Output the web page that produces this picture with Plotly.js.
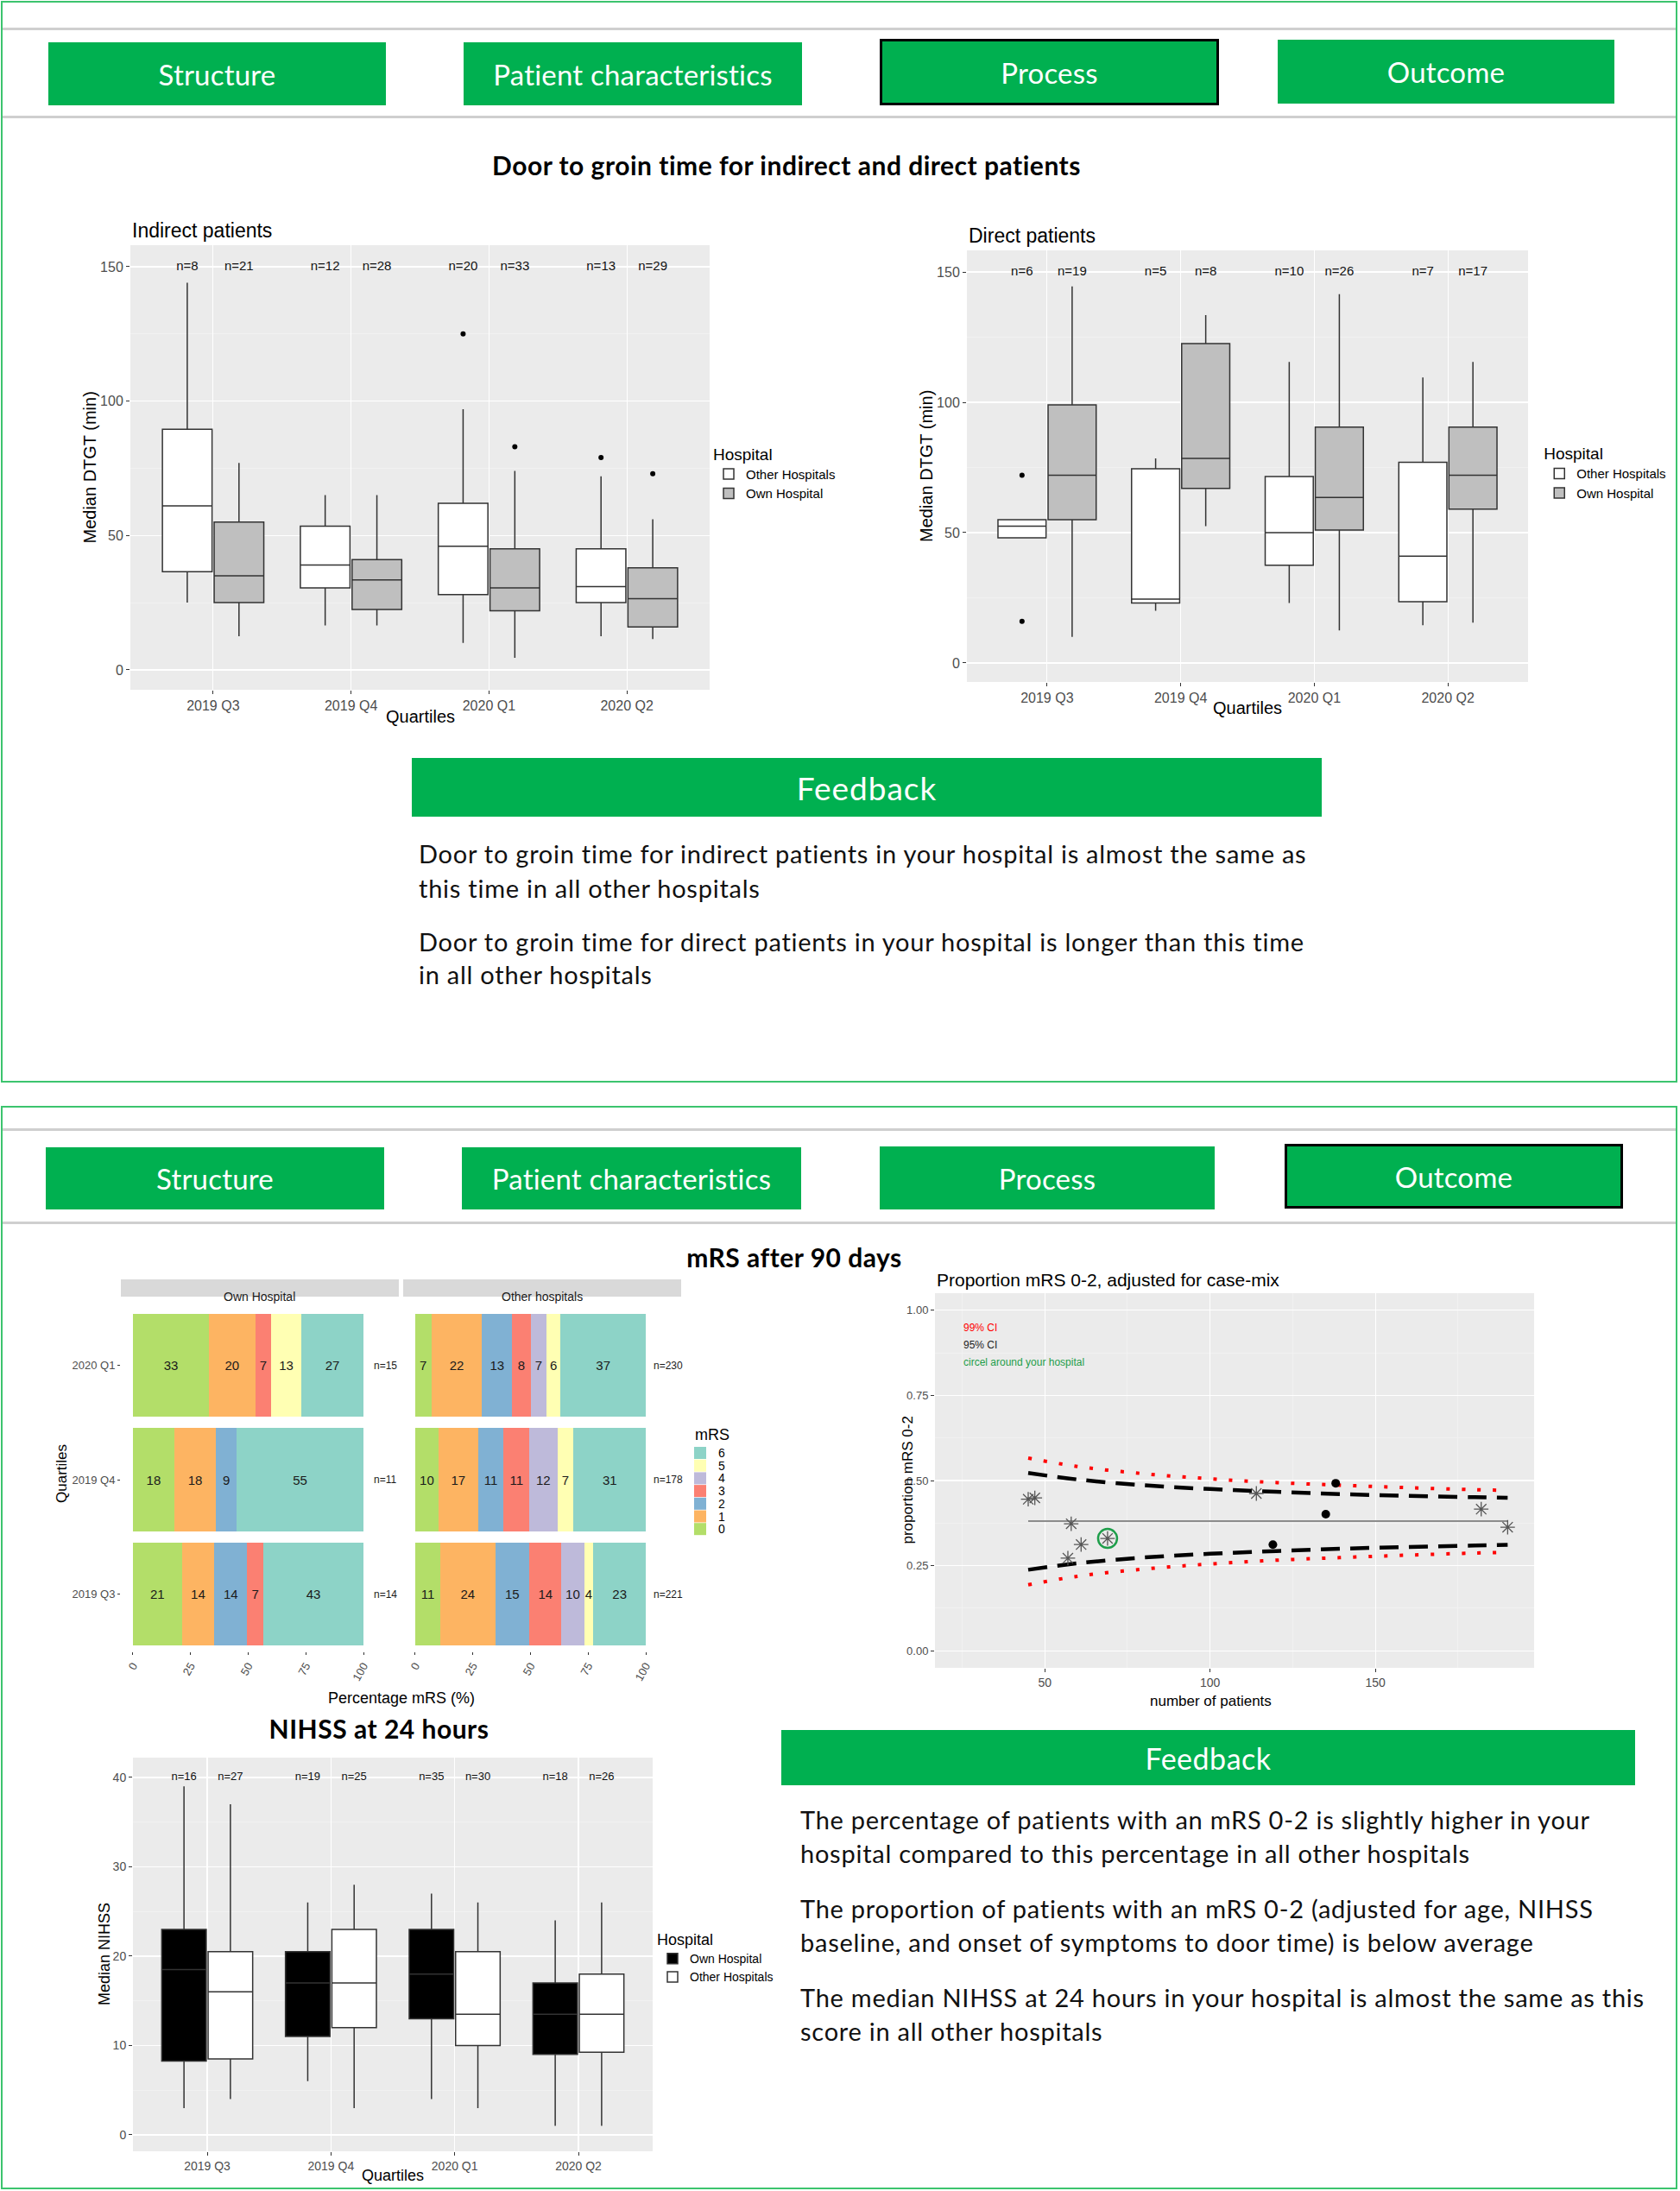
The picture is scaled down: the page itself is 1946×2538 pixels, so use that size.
<!DOCTYPE html>
<html><head><meta charset="utf-8">
<script src="https://cdn.plot.ly/plotly-3.0.1.min.js"></script>
<style>
body{margin:0;background:#fff;width:1946px;height:2538px;position:relative;overflow:hidden;font-family:Lato,'Liberation Sans',sans-serif;}
.panel{position:absolute;border:2px solid #3cc46e;box-sizing:border-box;}
.hline{position:absolute;height:3px;background:#cfcfcf;}
.btn{position:absolute;background:#00b050;color:#fff;display:flex;align-items:center;justify-content:center;font-size:33px;letter-spacing:0.2px;box-sizing:border-box;white-space:nowrap;}
.sel{border:3px solid #000;}
.ttl{position:absolute;font-weight:bold;font-size:30px;letter-spacing:0.5px;color:#000;white-space:nowrap;transform:translate(-50%,-50%);}
.fb{position:absolute;font-size:29px;letter-spacing:0.75px;color:#111;white-space:nowrap;transform:translateY(-50%);}
.chart{position:absolute;}
</style></head><body>

<div class="panel" style="left:1px;top:1px;width:1942px;height:1253px;"></div>
<div class="hline" style="left:3px;top:32px;width:1938px;"></div>
<div class="hline" style="left:3px;top:134px;width:1938px;"></div>
<div class="btn" style="left:56px;top:49px;width:391px;height:73px;">Structure</div>
<div class="btn" style="left:537px;top:49px;width:392px;height:73px;">Patient characteristics</div>
<div class="btn sel" style="left:1019px;top:45px;width:393px;height:77px;">Process</div>
<div class="btn" style="left:1480px;top:46px;width:390px;height:74px;">Outcome</div>
<div class="ttl" style="left:911px;top:191px;">Door to groin time for indirect and direct patients</div>

<div class="btn" style="left:477px;top:878px;width:1054px;height:68px;font-size:37px;letter-spacing:1px;">Feedback</div>
<div class="fb" style="left:485px;top:988px;">Door to groin time for indirect patients in your hospital is almost the same as</div>
<div class="fb" style="left:485px;top:1028px;">this time in all other hospitals</div>
<div class="fb" style="left:485px;top:1090px;">Door to groin time for direct patients in your hospital is longer than this time</div>
<div class="fb" style="left:485px;top:1128px;">in all other hospitals</div>

<div class="panel" style="left:1px;top:1281px;width:1942px;height:1255px;"></div>
<div class="hline" style="left:3px;top:1307px;width:1938px;"></div>
<div class="hline" style="left:3px;top:1415px;width:1938px;"></div>
<div class="btn" style="left:53px;top:1329px;width:392px;height:72px;">Structure</div>
<div class="btn" style="left:535px;top:1329px;width:393px;height:72px;">Patient characteristics</div>
<div class="btn" style="left:1019px;top:1328px;width:388px;height:73px;">Process</div>
<div class="btn sel" style="left:1488px;top:1325px;width:392px;height:75px;">Outcome</div>
<div class="ttl" style="left:920px;top:1456px;">mRS after 90 days</div>
<div class="ttl" style="left:439px;top:2002px;">NIHSS at 24 hours</div>

<div class="btn" style="left:905px;top:2004px;width:989px;height:64px;font-size:34px;letter-spacing:0.5px;">Feedback</div>
<div class="fb" style="left:927px;top:2107px;">The percentage of patients with an mRS 0-2 is slightly higher in your</div>
<div class="fb" style="left:927px;top:2146px;">hospital compared to this percentage in all other hospitals</div>
<div class="fb" style="left:927px;top:2210px;">The proportion of patients with an mRS 0-2 (adjusted for age, NIHSS</div>
<div class="fb" style="left:927px;top:2249px;">baseline, and onset of symptoms to door time) is below average</div>
<div class="fb" style="left:927px;top:2313px;">The median NIHSS at 24 hours in your hospital is almost the same as this</div>
<div class="fb" style="left:927px;top:2352px;">score in all other hospitals</div>

<div id="indirect" class="chart" style="left:40px;top:230px;width:1000px;height:620px;"></div>
<div id="direct" class="chart" style="left:1000px;top:230px;width:941px;height:620px;"></div>
<div id="mrs" class="chart" style="left:40px;top:1440px;width:920px;height:540px;"></div>
<div id="funnel" class="chart" style="left:980px;top:1440px;width:900px;height:560px;"></div>
<div id="nihss" class="chart" style="left:40px;top:2010px;width:900px;height:528px;"></div>

<script>
// ---------- data ----------
const quarters = ['2019 Q3', '2019 Q4', '2020 Q1', '2020 Q2'];

// Indirect patients, door to groin time (min)
const indOtherLow  = [25, 16.5, 10, 12.5];
const indOtherQ1   = [36.5, 30.5, 28, 25];
const indOtherMed  = [61, 39, 46, 31];
const indOtherQ3   = [89.5, 53.5, 62, 45];
const indOtherHigh = [144, 65, 97, 72];
const indOtherOut  = [[], [], [125], [79]];
const indOtherN    = [8, 12, 20, 13];
const indOwnLow    = [12.5, 16.5, 4.5, 11.5];
const indOwnQ1     = [25, 22.5, 22, 16];
const indOwnMed    = [35, 33.5, 30.5, 26.5];
const indOwnQ3     = [55, 41, 45, 38];
const indOwnHigh   = [77, 65, 74, 56];
const indOwnOut    = [[], [], [83], [73]];
const indOwnN      = [21, 28, 33, 29];

// Direct patients, door to groin time (min)
const dirOtherLow  = [48, 20, 23, 14.5];
const dirOtherQ1   = [48, 23, 37.5, 23.5];
const dirOtherMed  = [52.5, 24.5, 50, 41];
const dirOtherQ3   = [55, 74.5, 71.5, 77];
const dirOtherHigh = [55, 78.5, 115.5, 109.5];
const dirOtherOut  = [[72, 16], [], [], []];
const dirOtherN    = [6, 5, 10, 7];
const dirOwnLow    = [10, 52.5, 12.5, 15.5];
const dirOwnQ1     = [55, 67, 51, 59];
const dirOwnMed    = [72, 78.5, 63.5, 72];
const dirOwnQ3     = [99, 122.5, 90.5, 90.5];
const dirOwnHigh   = [144.5, 133.5, 141.5, 115.5];
const dirOwnOut    = [[], [], [], []];
const dirOwnN      = [19, 8, 26, 17];

// NIHSS at 24 hours
const nihOwnLow    = [3, 6, 4, 1];
const nihOwnQ1     = [8.25, 11, 13, 9];
const nihOwnMed    = [18.5, 17, 18, 13.5];
const nihOwnQ3     = [23, 20.5, 23, 17];
const nihOwnHigh   = [39, 26, 27, 24];
const nihOwnN      = [16, 19, 35, 18];
const nihOtherLow  = [4, 3, 3, 1];
const nihOtherQ1   = [8.5, 12, 10, 9.25];
const nihOtherMed  = [16, 17, 13.5, 13.5];
const nihOtherQ3   = [20.5, 23, 20.5, 18];
const nihOtherHigh = [37, 28, 26, 26];
const nihOtherN    = [27, 25, 30, 26];

// mRS after 90 days (%), levels 0..6
const mrsQuarters = ['2019 Q3', '2019 Q4', '2020 Q1'];
const mrsLevels = ['0', '1', '2', '3', '4', '5', '6'];
const mrsColors = ['#b3de69', '#fdb462', '#80b1d3', '#fb8072', '#bebada', '#ffffb3', '#8dd3c7'];
const mrsOwn2019Q3   = [21, 14, 14, 7, 0, 0, 43];
const mrsOwn2019Q4   = [18, 18, 9, 0, 0, 0, 55];
const mrsOwn2020Q1   = [33, 20, 0, 7, 0, 13, 27];
const mrsOther2019Q3 = [11, 24, 15, 14, 10, 4, 23];
const mrsOther2019Q4 = [10, 17, 11, 11, 12, 7, 31];
const mrsOther2020Q1 = [7, 22, 13, 8, 7, 6, 37];
const mrsOwnN   = [14, 11, 15];
const mrsOtherN = [221, 178, 230];

// Funnel plot: proportion mRS 0-2 adjusted for case-mix
const funnelN  = [45, 60, 80, 100, 120, 140, 160, 180, 190];
const upper99  = [0.566, 0.541, 0.520, 0.505, 0.494, 0.486, 0.479, 0.473, 0.471];
const upper95  = [0.522, 0.503, 0.486, 0.475, 0.467, 0.460, 0.455, 0.451, 0.449];
const lower95  = [0.238, 0.257, 0.274, 0.285, 0.293, 0.300, 0.305, 0.309, 0.311];
const lower99  = [0.194, 0.219, 0.240, 0.255, 0.266, 0.274, 0.281, 0.287, 0.289];
const meanN    = [45, 190];
const meanP    = [0.381, 0.381];
const starN    = [45, 47, 57, 58, 61, 69, 114, 182, 190];
const starP    = [0.445, 0.449, 0.272, 0.373, 0.312, 0.330, 0.462, 0.416, 0.363];
const dotN     = [119, 135, 138];
const dotP     = [0.312, 0.401, 0.492];
const yourN    = [69];
const yourP    = [0.330];

// ---------- helpers ----------
const F = 'Liberation Sans, Arial, sans-serif';
const dodge = 0.1875, boxW = 0.36;
const cfg = {staticPlot: true, displayModeBar: false};
const pos = off => quarters.map((q, i) => i + 1 + off);

function boxTrace(name, off, lo, q1, med, q3, hi, fill) {
  return {type: 'box', name: name, x: pos(off), lowerfence: lo, q1: q1, median: med, q3: q3, upperfence: hi,
    width: boxW, fillcolor: fill, line: {color: '#333333', width: 1.5}, whiskerwidth: 0,
    boxpoints: false, hoverinfo: 'skip', showlegend: true};
}
function outTrace(off, outs) {
  const x = [], y = [];
  outs.forEach((arr, i) => arr.forEach(v => { x.push(i + 1 + off); y.push(v); }));
  return {type: 'scatter', mode: 'markers', x: x, y: y, marker: {color: '#000', size: 6}, showlegend: false, hoverinfo: 'skip'};
}
function nTrace(off, ns, yv, fs) {
  return {type: 'scatter', mode: 'text', x: pos(off), y: ns.map(() => yv), text: ns.map(n => 'n=' + n),
    textfont: {family: F, size: fs, color: '#111'}, showlegend: false, hoverinfo: 'skip'};
}
function boxLayout(o) {
  return {
    width: o.w, height: o.h, margin: {l: o.l, r: o.r, t: o.t, b: o.b, autoexpand: false},
    paper_bgcolor: 'rgba(0,0,0,0)', plot_bgcolor: '#ebebeb', boxmode: 'overlay', showlegend: true,
    font: {family: F},
    xaxis: {range: [0.4, 4.6], tickvals: [1, 2, 3, 4], ticktext: quarters, showgrid: true, gridcolor: '#ffffff', gridwidth: 1.2,
      zeroline: false, showline: false, ticks: 'outside', ticklen: 4, tickcolor: '#333', tickfont: {family: F, size: o.tf, color: '#4d4d4d'}},
    yaxis: {range: o.yr, dtick: o.dt, tick0: 0, showgrid: true, gridcolor: '#ffffff', gridwidth: 1.2,
      minor: {dtick: o.dt / 2, tick0: 0, showgrid: true, gridcolor: '#f5f5f5', gridwidth: 0.6},
      zeroline: false, showline: false, ticks: 'outside', ticklen: 4, tickcolor: '#333', tickfont: {family: F, size: o.tf, color: '#4d4d4d'}},
    legend: {x: o.lx, y: o.ly, xanchor: 'left', yanchor: 'top', bgcolor: 'rgba(0,0,0,0)',
      title: {text: 'Hospital', font: {family: F, size: o.lt, color: '#000'}}, font: {family: F, size: o.li, color: '#000'}},
    annotations: [
      o.title ? {text: o.title, xref: 'paper', yref: 'paper', x: 0, y: 1, xanchor: 'left', yanchor: 'bottom', yshift: 2, showarrow: false, font: {family: F, size: 23, color: '#000'}} : null,
      {text: 'Quartiles', xref: 'paper', yref: 'paper', x: 0.5, y: 0, yanchor: 'middle', yshift: -o.xts, showarrow: false, font: {family: F, size: o.af, color: '#000'}},
      {text: o.ytitle, xref: 'paper', yref: 'paper', x: 0, y: 0.5, xanchor: 'center', xshift: -o.yts, textangle: -90, showarrow: false, font: {family: F, size: o.af, color: '#000'}}
    ].filter(Boolean)
  };
}

// ---------- indirect ----------
Plotly.newPlot('indirect', [
  boxTrace('Other Hospitals', -dodge, indOtherLow, indOtherQ1, indOtherMed, indOtherQ3, indOtherHigh, '#ffffff'),
  boxTrace('Own Hospital', dodge, indOwnLow, indOwnQ1, indOwnMed, indOwnQ3, indOwnHigh, '#bfbfbf'),
  outTrace(-dodge, indOtherOut), outTrace(dodge, indOwnOut),
  nTrace(-dodge, indOtherN, 150, 15), nTrace(dodge, indOwnN, 150, 15)
], boxLayout({w: 1000, h: 620, l: 111, r: 218, t: 54, b: 51, yr: [-7.4, 158], dt: 50, lx: 1.003, ly: 0.565,
  title: 'Indirect patients', ytitle: 'Median DTGT (min)', xts: 31, yts: 48, tf: 16, af: 20, lt: 19, li: 15}), cfg);

// ---------- direct ----------
Plotly.newPlot('direct', [
  boxTrace('Other Hospitals', -dodge, dirOtherLow, dirOtherQ1, dirOtherMed, dirOtherQ3, dirOtherHigh, '#ffffff'),
  boxTrace('Own Hospital', dodge, dirOwnLow, dirOwnQ1, dirOwnMed, dirOwnQ3, dirOwnHigh, '#bfbfbf'),
  outTrace(-dodge, dirOtherOut), outTrace(dodge, dirOwnOut),
  nTrace(-dodge, dirOtherN, 150, 15), nTrace(dodge, dirOwnN, 150, 15)
], boxLayout({w: 941, h: 620, l: 120, r: 171, t: 60, b: 60, yr: [-7.3, 158.3], dt: 50, lx: 1.025, ly: 0.565,
  title: 'Direct patients', ytitle: 'Median DTGT (min)', xts: 30, yts: 47, tf: 16, af: 20, lt: 19, li: 15}), cfg);

// ---------- NIHSS ----------
Plotly.newPlot('nihss', [
  boxTrace('Own Hospital', -dodge, nihOwnLow, nihOwnQ1, nihOwnMed, nihOwnQ3, nihOwnHigh, '#000000'),
  boxTrace('Other Hospitals', dodge, nihOtherLow, nihOtherQ1, nihOtherMed, nihOtherQ3, nihOtherHigh, '#ffffff'),
  nTrace(-dodge, nihOwnN, 40, 13), nTrace(dodge, nihOtherN, 40, 13)
], boxLayout({w: 900, h: 528, l: 114, r: 184, t: 26, b: 46, yr: [-1.84, 42.22], dt: 10, lx: 1.005, ly: 0.575,
  title: null, ytitle: 'Median NIHSS', xts: 28, yts: 33, tf: 14, af: 18, lt: 18, li: 14}), cfg);

// ---------- mRS stacked bars ----------
const ownRows = [mrsOwn2019Q3, mrsOwn2019Q4, mrsOwn2020Q1];
const otherRows = [mrsOther2019Q3, mrsOther2019Q4, mrsOther2020Q1];
const mrsTraces = [];
function mrsTrace(rows, k, xa) {
  const xv = rows.map(r => r[k]);
  return {type: 'bar', orientation: 'h', name: mrsLevels[k], x: xv, y: mrsQuarters,
    xaxis: xa, yaxis: 'y', width: 0.9, marker: {color: mrsColors[k], line: {width: 0}},
    text: xv.map(v => v ? String(v) : ''), textposition: 'inside', insidetextanchor: 'middle', textangle: 0,
    textfont: {family: F, size: 15, color: '#1a1a1a'}, showlegend: false, hoverinfo: 'skip'};
}
mrsLevels.forEach((lv, k) => mrsTraces.push(mrsTrace(ownRows, k, 'x')));
mrsLevels.forEach((lv, k) => mrsTraces.push(mrsTrace(otherRows, k, 'x2')));
const mrsX = {range: [-5.2, 115.3], tickvals: [0, 25, 50, 75, 100], tickangle: -60, showgrid: false, zeroline: false,
  showline: false, ticks: 'outside', ticklen: 3, tickcolor: '#333', tickfont: {family: F, size: 13, color: '#4d4d4d'}, anchor: 'y'};
const mrsAnn = [
  {text: 'Own Hospital', xref: 'x domain', yref: 'paper', x: 0.5, y: 1.0243, showarrow: false, font: {family: F, size: 14, color: '#1a1a1a'}},
  {text: 'Other hospitals', xref: 'x2 domain', yref: 'paper', x: 0.5, y: 1.0243, showarrow: false, font: {family: F, size: 14, color: '#1a1a1a'}},
  {text: 'Percentage mRS (%)', xref: 'paper', yref: 'paper', x: 0.5, y: 0, yanchor: 'middle', yshift: -54, showarrow: false, font: {family: F, size: 18, color: '#000'}},
  {text: 'Quartiles', xref: 'paper', yref: 'paper', x: 0, y: 0.5, xshift: -80, textangle: -90, showarrow: false, font: {family: F, size: 17, color: '#000'}}
];
mrsQuarters.forEach((q, i) => {
  mrsAnn.push({text: 'n=' + mrsOwnN[i], xref: 'x', yref: 'y', x: 109.5, y: q, showarrow: false, font: {family: F, size: 12, color: '#1a1a1a'}});
  mrsAnn.push({text: 'n=' + mrsOtherN[i], xref: 'x2', yref: 'y', x: 109.5, y: q, showarrow: false, font: {family: F, size: 12, color: '#1a1a1a'}});
});
// compact legend (ggplot style) drawn with shapes + labels, levels 6 at top down to 0
const mrsShapes = [
  {type: 'rect', xref: 'x domain', yref: 'paper', x0: 0, x1: 1, y0: 1, y1: 1.0487, fillcolor: '#d9d9d9', line: {width: 0}},
  {type: 'rect', xref: 'x2 domain', yref: 'paper', x0: 0, x1: 1, y0: 1, y1: 1.0487, fillcolor: '#d9d9d9', line: {width: 0}}
];
const legPlotW = 649, legPlotH = 411, legStep = 14.7;
mrsAnn.push({text: 'mRS', xref: 'paper', yref: 'paper', x: 1 + 14 / legPlotW, y: 1 - 160 / legPlotH, xanchor: 'left', yanchor: 'middle', showarrow: false, font: {family: F, size: 18, color: '#000'}});
mrsLevels.slice().reverse().forEach((lv, j) => {
  const k = mrsLevels.length - 1 - j;
  const cy = 1 - (181 + j * legStep) / legPlotH;
  mrsShapes.push({type: 'rect', xref: 'paper', yref: 'paper', x0: 1 + 15 / legPlotW, x1: 1 + 29 / legPlotW,
    y0: cy - 7 / legPlotH, y1: cy + 7 / legPlotH, fillcolor: mrsColors[k], line: {width: 0}});
  mrsAnn.push({text: lv, xref: 'paper', yref: 'paper', x: 1 + 41 / legPlotW, y: cy, xanchor: 'left', yanchor: 'middle', showarrow: false, font: {family: F, size: 14, color: '#000'}});
});
Plotly.newPlot('mrs', mrsTraces, {
  width: 920, height: 540, margin: {l: 100, r: 171, t: 62, b: 67, autoexpand: false},
  paper_bgcolor: 'rgba(0,0,0,0)', plot_bgcolor: '#ffffff', barmode: 'stack', barnorm: 'percent', showlegend: false,
  uniformtext: {mode: 'show', minsize: 15}, font: {family: F},
  xaxis: Object.assign({domain: [0, 0.4961]}, mrsX),
  xaxis2: Object.assign({domain: [0.5039, 1]}, mrsX),
  yaxis: {type: 'category', categoryorder: 'array', categoryarray: mrsQuarters, range: [-0.5, 2.6], showgrid: false, zeroline: false,
    ticks: 'outside', ticklen: 3, tickcolor: '#333', tickfont: {family: F, size: 13, color: '#4d4d4d'}},
  shapes: mrsShapes,
  annotations: mrsAnn
}, cfg);

// ---------- funnel ----------
Plotly.newPlot('funnel', [
  {x: funnelN, y: upper99, mode: 'lines', line: {color: '#ff0000', width: 4, dash: '4px,14px', shape: 'spline'}, hoverinfo: 'skip'},
  {x: funnelN, y: lower99, mode: 'lines', line: {color: '#ff0000', width: 4, dash: '4px,14px', shape: 'spline'}, hoverinfo: 'skip'},
  {x: funnelN, y: upper95, mode: 'lines', line: {color: '#000000', width: 4.5, dash: '22px,12px', shape: 'spline'}, hoverinfo: 'skip'},
  {x: funnelN, y: lower95, mode: 'lines', line: {color: '#000000', width: 4.5, dash: '22px,12px', shape: 'spline'}, hoverinfo: 'skip'},
  {x: meanN, y: meanP, mode: 'lines', line: {color: '#8c8c8c', width: 2}, hoverinfo: 'skip'},
  {x: starN, y: starP, mode: 'markers', marker: {symbol: 'asterisk-open', size: 14, color: '#555', line: {color: '#555', width: 1.3}}, hoverinfo: 'skip'},
  {x: dotN, y: dotP, mode: 'markers', marker: {symbol: 'circle', size: 10, color: '#000'}, hoverinfo: 'skip'},
  {x: yourN, y: yourP, mode: 'markers', marker: {symbol: 'circle-open', size: 22, color: '#1e9e4a', line: {color: '#1e9e4a', width: 2.5}}, hoverinfo: 'skip'}
], {
  width: 900, height: 560, margin: {l: 103, r: 103, t: 58, b: 68, autoexpand: false},
  paper_bgcolor: 'rgba(0,0,0,0)', plot_bgcolor: '#ebebeb', showlegend: false, font: {family: F},
  xaxis: {range: [16.8, 198], dtick: 50, tick0: 0, showgrid: true, gridcolor: '#fff', gridwidth: 1.2,
    minor: {dtick: 25, tick0: 0, showgrid: true, gridcolor: '#f5f5f5', gridwidth: 0.6},
    zeroline: false, ticks: 'outside', ticklen: 4, tickcolor: '#333', tickfont: {family: F, size: 14, color: '#4d4d4d'}},
  yaxis: {range: [-0.05, 1.05], dtick: 0.25, tick0: 0, tickformat: '.2f', showgrid: true, gridcolor: '#fff', gridwidth: 1.2,
    minor: {dtick: 0.125, tick0: 0, showgrid: true, gridcolor: '#f5f5f5', gridwidth: 0.6},
    zeroline: false, ticks: 'outside', ticklen: 4, tickcolor: '#333', tickfont: {family: F, size: 13, color: '#4d4d4d'}},
  annotations: [
    {text: 'Proportion mRS 0-2, adjusted for case-mix', xref: 'paper', yref: 'paper', x: 0, y: 1, xanchor: 'left', yanchor: 'bottom', yshift: 2, showarrow: false, font: {family: F, size: 21, color: '#000'}},
    {text: '99% CI', xref: 'x', yref: 'y', x: 25, y: 0.949, xanchor: 'left', showarrow: false, font: {family: F, size: 12, color: '#ff0000'}},
    {text: '95% CI', xref: 'x', yref: 'y', x: 25, y: 0.898, xanchor: 'left', showarrow: false, font: {family: F, size: 12, color: '#222'}},
    {text: 'circel around your hospital', xref: 'x', yref: 'y', x: 25, y: 0.848, xanchor: 'left', showarrow: false, font: {family: F, size: 12, color: '#1e9e4a'}},
    {text: 'number of patients', xref: 'paper', yref: 'paper', x: 0.46, y: 0, yanchor: 'middle', yshift: -38, showarrow: false, font: {family: F, size: 17, color: '#000'}},
    {text: 'proportion mRS 0-2', xref: 'paper', yref: 'paper', x: 0, y: 0.5, xshift: -44, textangle: -90, showarrow: false, font: {family: F, size: 17, color: '#000'}}
  ]
}, cfg);
</script>
</body></html>
